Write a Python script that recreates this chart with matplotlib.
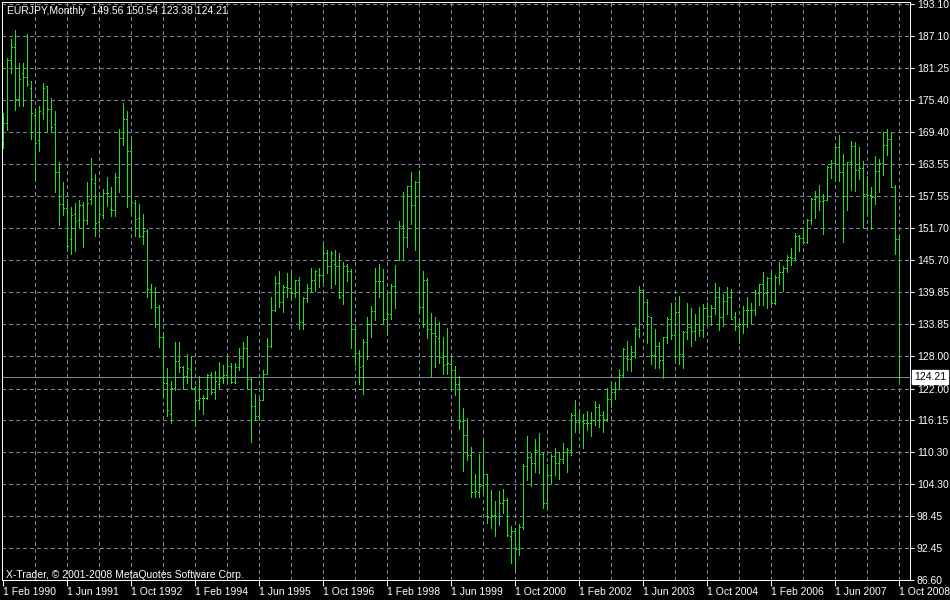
import numpy as np
import pandas as pd
import matplotlib
matplotlib.use('Agg')
import matplotlib.pyplot as plt
import matplotlib.transforms as mtransforms

# EURJPY monthly bars, Feb 1990 .. Oct 2008 ---------------------------------------------
start_month = '1990-02'

opens = [168.00, 171.04, 182.75, 185.09, 175.47, 180.28, 179.54, 177.63, 172.51, 167.95,
         172.88, 177.94, 173.63, 170.85, 161.97, 156.12, 155.32, 149.59, 154.21, 153.16,
         155.87, 153.10, 157.00, 159.94, 152.80, 154.09, 158.09, 155.26, 155.01, 161.05,
         168.30, 171.78, 165.86, 156.37, 153.47, 150.20, 151.19, 140.47, 139.85, 137.01,
         131.47, 122.96, 117.29, 122.04, 127.09, 125.98, 124.32, 125.55, 122.10, 119.94,
         120.19, 120.19, 124.50, 121.30, 122.84, 124.01, 124.44, 126.17, 123.15, 125.98,
         127.65, 129.50, 123.70, 118.77, 116.86, 119.88, 124.63, 129.80, 136.52, 141.51,
         138.00, 140.77, 140.59, 139.66, 142.07, 134.30, 138.74, 140.53, 142.07, 142.99,
         142.99, 147.00, 144.66, 145.03, 144.66, 139.29, 144.66, 143.73, 133.01, 128.57,
         126.17, 130.61, 133.93, 136.34, 141.88, 141.88, 134.86, 135.78, 140.96, 145.77,
         152.05, 150.02, 159.45, 155.94, 160.19, 137.08, 142.07, 133.01, 132.27, 131.34,
         127.83, 126.54, 126.47, 125.37, 122.84, 116.00, 113.41, 109.71, 102.87, 102.87,
         104.16, 106.20, 98.25, 98.62, 98.43, 100.83, 101.39, 94.73, 95.66, 92.33,
         96.40, 107.68, 109.34, 108.23, 110.45, 109.90, 100.83, 106.01, 109.53, 108.23,
         108.97, 110.27, 110.63, 117.11, 115.81, 116.00, 115.63, 115.63, 116.18, 118.59,
         117.11, 116.37, 120.06, 121.36, 121.92, 124.50, 127.65, 127.46, 128.76, 132.95,
         140.22, 138.00, 135.20, 128.20, 129.86, 127.28, 131.53, 134.86, 131.90, 136.15,
         128.38, 132.45, 133.38, 132.64, 133.93, 132.82, 136.89, 135.41, 136.89, 138.92,
         135.23, 138.19, 138.92, 135.23, 133.56, 133.93, 136.52, 136.52, 136.52, 139.66,
         141.33, 139.67, 142.44, 137.82, 142.62, 143.55, 144.29, 146.32, 146.14, 150.20,
         149.83, 149.09, 153.16, 157.04, 157.42, 156.68, 156.86, 162.96, 163.70, 166.66,
         162.04, 157.60, 163.89, 166.84, 162.41, 162.78, 157.97, 157.78, 157.42, 162.22,
         163.70, 167.03, 168.14, 159.26, 149.56]

highs = [172.88, 183.05, 186.63, 188.29, 182.25, 182.25, 187.55, 178.86, 173.69, 174.24,
         178.43, 177.94, 175.66, 173.32, 163.83, 160.19, 157.05, 155.57, 156.31, 156.86,
         156.55, 160.19, 164.63, 161.67, 157.97, 158.89, 161.11, 159.26, 161.79, 169.99,
         174.79, 173.32, 167.95, 156.86, 156.12, 154.27, 151.49, 141.32, 140.77, 137.44,
         132.33, 125.80, 123.39, 130.60, 130.60, 126.17, 128.39, 128.02, 122.47, 124.32,
         120.80, 124.69, 125.06, 125.24, 126.91, 126.35, 127.89, 126.78, 126.72, 129.50,
         130.60, 131.71, 123.89, 120.99, 120.19, 125.43, 131.34, 138.99, 142.81, 143.73,
         141.14, 143.36, 143.36, 142.07, 142.62, 138.86, 141.33, 144.29, 143.92, 144.29,
         148.91, 147.62, 147.43, 147.62, 147.06, 145.40, 145.03, 144.10, 133.56, 129.13,
         131.16, 135.23, 137.26, 144.29, 145.03, 144.10, 139.85, 141.33, 144.84, 152.98,
         158.34, 159.45, 162.04, 160.37, 162.41, 143.73, 142.44, 135.97, 135.23, 134.30,
         131.53, 133.19, 128.02, 126.17, 124.32, 118.40, 116.55, 111.19, 106.20, 109.90,
         112.30, 106.20, 103.24, 101.20, 103.05, 103.42, 101.76, 96.58, 96.21, 96.95,
         108.05, 113.22, 110.08, 112.67, 113.78, 110.08, 108.05, 109.90, 111.00, 110.27,
         111.93, 111.00, 117.48, 119.88, 118.03, 117.29, 117.85, 117.66, 119.70, 119.14,
         117.85, 122.10, 123.39, 123.21, 125.61, 129.50, 130.79, 129.86, 133.38, 140.96,
         140.40, 138.55, 135.30, 133.01, 130.60, 131.53, 135.23, 137.82, 138.00, 139.11,
         132.64, 137.82, 136.89, 135.78, 137.08, 137.63, 138.00, 137.45, 141.51, 140.77,
         139.48, 140.77, 140.40, 136.15, 134.30, 137.26, 138.92, 137.82, 140.22, 141.33,
         143.55, 142.63, 143.55, 142.99, 145.40, 144.66, 146.69, 147.98, 150.76, 150.39,
         151.31, 153.35, 157.23, 158.53, 159.63, 157.97, 163.15, 164.26, 166.84, 168.88,
         165.37, 163.89, 167.77, 167.58, 166.66, 164.07, 161.30, 159.26, 164.99, 164.44,
         169.43, 169.99, 169.43, 159.63, 150.54]

lows = [166.54, 169.80, 180.28, 173.50, 174.24, 174.24, 178.00, 168.20, 160.81, 165.98,
        171.90, 169.43, 169.43, 158.40, 152.30, 154.15, 148.23, 146.94, 147.49, 151.93,
        148.23, 152.49, 156.18, 150.27, 150.94, 153.59, 155.81, 153.96, 153.96, 158.40,
        167.09, 155.63, 154.21, 150.27, 150.08, 148.66, 138.99, 136.95, 133.44, 129.74,
        120.50, 116.98, 115.57, 121.73, 125.12, 121.85, 122.96, 122.04, 115.14, 118.22,
        117.29, 120.00, 120.93, 120.13, 122.04, 122.96, 122.96, 122.96, 122.96, 125.43,
        125.98, 122.04, 112.18, 116.18, 116.18, 119.88, 124.63, 129.62, 136.34, 137.14,
        136.21, 138.99, 138.68, 138.99, 133.07, 133.07, 138.06, 140.03, 140.03, 140.77,
        141.70, 143.36, 140.59, 141.33, 138.74, 137.63, 141.88, 129.50, 126.35, 122.84,
        120.99, 127.46, 131.53, 134.67, 138.92, 133.93, 131.90, 134.86, 136.89, 145.77,
        145.77, 148.17, 152.42, 147.62, 136.15, 133.38, 131.34, 124.32, 125.98, 126.72,
        124.69, 124.69, 122.10, 120.80, 114.52, 106.75, 108.79, 101.95, 101.95, 101.95,
        102.68, 97.14, 96.21, 94.73, 96.77, 98.99, 94.73, 89.74, 88.63, 91.22,
        96.03, 105.09, 103.98, 106.57, 106.38, 99.91, 99.73, 104.53, 106.01, 105.27,
        108.23, 106.57, 109.71, 113.96, 114.15, 111.00, 114.33, 113.22, 115.26, 114.89,
        113.96, 115.99, 118.59, 120.06, 121.85, 124.13, 125.43, 125.24, 127.65, 131.53,
        135.04, 130.42, 126.54, 125.80, 125.80, 123.95, 130.42, 131.16, 127.28, 126.54,
        125.80, 131.16, 129.86, 130.97, 131.71, 131.53, 133.93, 133.75, 135.78, 132.82,
        133.56, 135.78, 134.86, 132.82, 130.42, 132.27, 133.38, 134.12, 135.60, 137.45,
        137.45, 136.89, 137.82, 137.63, 141.33, 140.03, 143.55, 144.84, 145.95, 147.43,
        148.91, 148.91, 152.42, 153.53, 155.01, 150.57, 156.86, 160.93, 160.37, 160.37,
        149.09, 155.01, 158.71, 158.52, 160.74, 151.87, 153.90, 151.50, 156.12, 158.34,
        161.48, 165.18, 159.26, 146.88, 123.38]

closes = [171.04, 182.75, 185.09, 175.47, 179.17, 179.54, 178.25, 172.88, 167.34, 173.25,
          177.51, 173.63, 170.42, 161.97, 156.12, 155.32, 148.35, 154.09, 152.92, 155.87,
          153.10, 156.31, 160.68, 152.55, 154.21, 158.09, 158.09, 155.01, 161.05, 168.40,
          171.78, 165.86, 156.49, 153.35, 150.20, 151.19, 140.47, 139.85, 137.01, 131.47,
          122.96, 118.03, 122.04, 127.09, 125.98, 124.32, 125.74, 122.10, 119.94, 120.19,
          120.19, 124.50, 121.30, 123.39, 124.01, 124.44, 126.17, 123.15, 125.98, 127.65,
          129.50, 123.70, 118.77, 116.86, 119.88, 124.63, 129.80, 136.52, 141.51, 138.00,
          140.77, 140.59, 139.66, 142.07, 134.30, 138.74, 140.53, 142.07, 143.73, 142.99,
          147.00, 144.66, 147.06, 144.66, 138.92, 144.66, 143.73, 133.01, 128.57, 125.98,
          130.61, 133.93, 136.34, 141.88, 141.88, 134.86, 135.78, 140.96, 145.77, 152.05,
          150.02, 159.45, 155.94, 160.19, 137.08, 142.07, 133.01, 132.27, 131.71, 127.83,
          126.35, 126.72, 125.37, 122.84, 116.00, 113.41, 109.71, 102.87, 103.05, 103.98,
          106.20, 98.25, 98.62, 98.43, 100.83, 101.39, 94.92, 95.66, 92.33, 96.40,
          107.68, 109.34, 108.23, 110.63, 109.90, 100.83, 106.01, 109.53, 108.23, 108.97,
          110.27, 110.63, 117.11, 115.81, 116.18, 115.63, 115.63, 116.18, 118.59, 117.11,
          116.37, 120.06, 121.36, 121.92, 124.50, 129.31, 127.46, 128.76, 132.95, 140.22,
          138.00, 135.35, 128.20, 129.86, 127.28, 131.53, 134.86, 131.90, 136.15, 128.38,
          132.45, 133.38, 132.64, 133.93, 132.82, 136.89, 135.41, 136.89, 138.92, 135.23,
          138.19, 138.92, 134.86, 133.56, 133.93, 136.52, 136.52, 136.52, 139.66, 141.33,
          139.67, 142.44, 137.82, 142.62, 143.55, 144.29, 146.32, 146.14, 150.20, 149.83,
          149.09, 153.16, 157.04, 157.42, 156.68, 156.86, 162.96, 163.70, 166.66, 162.04,
          157.60, 163.89, 166.84, 162.41, 162.78, 157.97, 157.78, 157.42, 162.22, 163.70,
          167.03, 168.14, 159.26, 149.56, 124.21]

price_levels = [193.10, 187.10, 181.25, 175.40, 169.40, 163.55, 157.55, 151.70, 145.70,
                139.85, 133.85, 128.00, 122.00, 116.15, 110.30, 104.30, 98.45, 92.45, 86.60]

title_text = 'EURJPY,Monthly  149.56 150.54 123.38 124.21'
copyright_text = 'X-Trader, \u00a9 2001-2008 MetaQuotes Software Corp.'

# colours
bg = 'black'
bar_col = '#22e022'
grid_col = '#778899'
fg = 'white'

plt.rcParams['font.family'] = ['Liberation Sans', 'DejaVu Sans']

months = pd.period_range(start_month, periods=len(closes), freq='M')
x = np.arange(len(closes))

# Figure -------------------------------------------------------------------------------
W, H = 950, 600
fig = plt.figure(figsize=(W / 100, H / 100), dpi=100, facecolor=bg)
# plot frame: x 2..910 px, y 2..580 px
ax = fig.add_axes([2 / W, (H - 580) / H, 908 / W, 578 / H], facecolor=bg)

px = (price_levels[0] - price_levels[-1]) / 576.0    # price per pixel
ax.set_ylim(price_levels[-1], price_levels[-1] + 578 * px)
ax.set_xlim(-0.25, len(closes) + 1.75)

one_px = 0.72   # line width of a single pixel, in points

# grid
for lvl in price_levels:
    ax.axhline(lvl, color=grid_col, lw=one_px, dashes=(4, 4), antialiased=False, zorder=1)
for i in range(8, len(closes), 8):
    ax.axvline(i, color=grid_col, lw=one_px, dashes=(4, 4), antialiased=False, zorder=1)

# current price line
last = closes[-1]
ax.axhline(last, color=grid_col, lw=one_px, antialiased=False, zorder=2)

# OHLC bars
ax.vlines(x, lows, highs, color=bar_col, lw=one_px, antialiased=False,
          capstyle='butt', zorder=3)
ax.hlines(opens, x - 0.3, x, color=bar_col, lw=one_px, antialiased=False,
          capstyle='butt', zorder=3)
ax.hlines(closes, x, x + 0.3, color=bar_col, lw=one_px, antialiased=False,
          capstyle='butt', zorder=3)

# frame
for s in ax.spines.values():
    s.set_color(fg)
    s.set_linewidth(one_px)
    s.set_antialiased(False)

# y axis on right
ax.yaxis.tick_right()
ax.set_yticks(price_levels)
ax.set_yticklabels(['%.2f' % v for v in price_levels])
ax.tick_params(axis='y', colors=fg, length=3, width=one_px, pad=2, labelsize=7.5)
for lab in ax.get_yticklabels():
    lab.set_ha('left')

# x axis dates every 16 months
xt = x[::16]
ax.set_xticks(xt)
ax.set_xticklabels(['1 ' + months[i].strftime('%b %Y') for i in xt])
ax.tick_params(axis='x', colors=fg, length=4, width=one_px, pad=1, labelsize=7.5)
for lab in ax.get_xticklabels():
    lab.set_ha('left')

# texts
fig.text(7 / W, 1 - 11 / H, title_text, color=fg, fontsize=7.5, va='center', ha='left')
fig.text(6 / W, 1 - 575 / H, copyright_text, color=fg, fontsize=7.5, va='center', ha='left')

# price label box on the right axis
trans = mtransforms.blended_transform_factory(ax.transAxes, ax.transData)
ax.text(1.0 + 4 / 908, last, '%.2f' % last, transform=trans, color='black', fontsize=7.5,
        va='center', ha='left', clip_on=False, zorder=5,
        bbox=dict(boxstyle='square,pad=0.2', fc='white', ec='white'))

fig.savefig('out.png', dpi=100, facecolor=bg)
